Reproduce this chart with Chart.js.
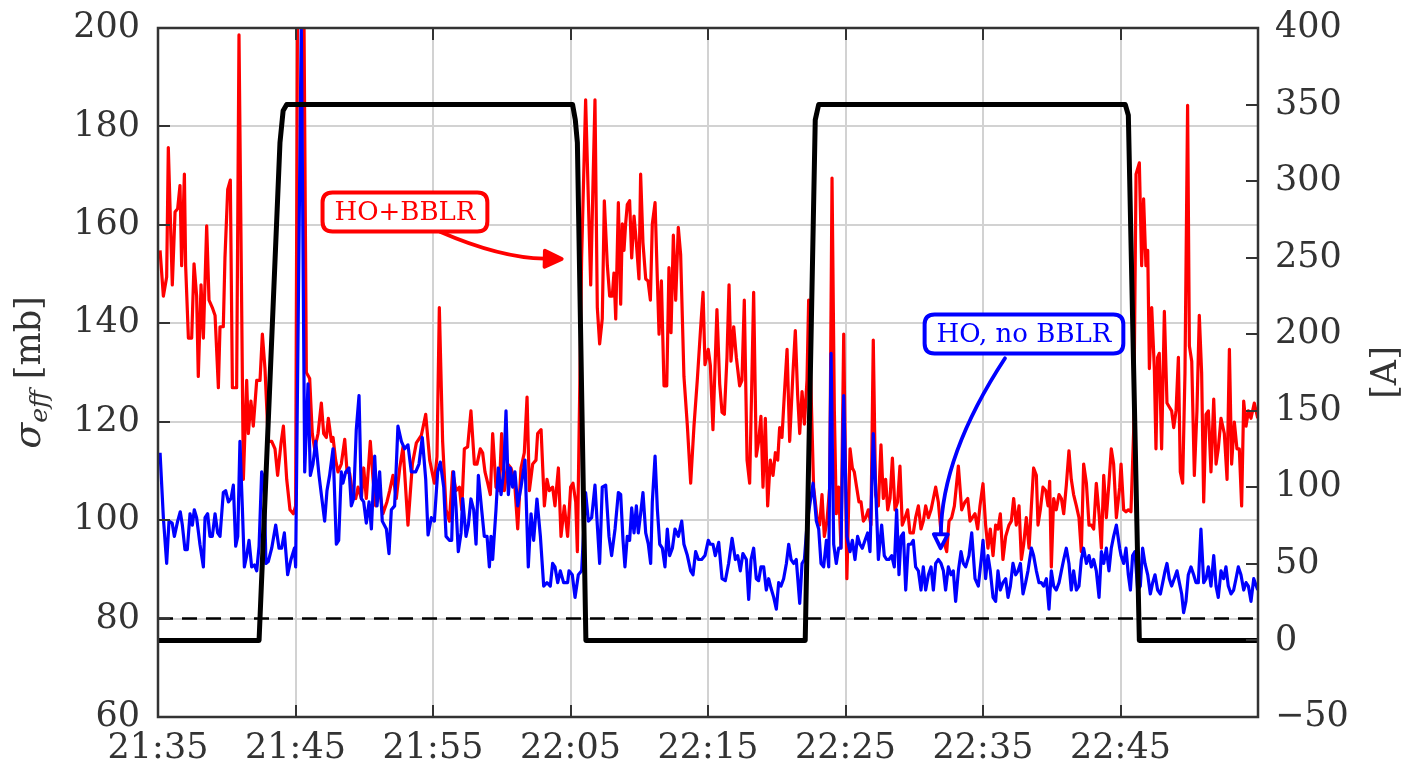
<!DOCTYPE html>
<html>
<head>
<meta charset="utf-8">
<script src="https://cdn.jsdelivr.net/npm/chart.js@4.4.0/dist/chart.umd.min.js"></script>
<style>
html,body{margin:0;padding:0;background:#ffffff;}
canvas{display:block;}
</style>
</head>
<body>
<canvas id="c" width="1406" height="766"></canvas>
<script>
// ---------- data (x in minutes after 21:35) ----------
const timeTickMinutes = [0, 10, 20, 30, 40, 50, 60, 70];
const timeTickLabels = ['21:35', '21:45', '21:55', '22:05', '22:15', '22:25', '22:35', '22:45'];
const xRange = [0, 80];
const sigmaRange = [60, 200];
const currentRange = [-50, 400];
const refLevel = 80;

const redT = [0.15,0.39,0.63,0.75,1.04,1.24,1.43,1.60,1.72,1.92,2.01,2.21,2.45,2.62,2.81,2.93,3.13,3.30,3.54,3.71,3.95,4.15,4.39,4.51,4.75,4.87,5.07,5.26,5.41,5.72,5.89,6.21,6.45,6.57,6.76,6.93,7.18,7.42,7.59,7.78,8.02,8.27,8.51,8.70,8.95,9.12,9.36,9.60,9.84,10.01,10.18,10.55,10.79,11.03,11.22,11.39,11.64,11.88,12.05,12.24,12.39,12.61,12.73,12.92,13.09,13.33,13.58,13.75,13.94,14.18,14.38,14.55,14.79,14.96,15.15,15.44,15.64,15.83,16.12,16.36,16.65,16.85,17.09,17.33,17.58,17.82,18.18,18.50,18.79,19.15,19.47,19.76,20.10,20.29,20.46,20.70,20.95,21.19,21.43,21.67,21.92,22.09,22.28,22.52,22.76,23.01,23.20,23.44,23.61,23.78,23.98,24.17,24.34,24.58,24.82,24.99,25.19,25.43,25.67,25.92,26.16,26.40,26.64,26.84,27.01,27.25,27.49,27.61,27.86,28.10,28.29,28.46,28.70,28.87,29.12,29.31,29.55,29.79,30.01,30.18,30.38,30.50,30.81,31.10,31.30,31.47,31.64,31.78,31.95,32.12,32.31,32.46,32.68,32.85,33.04,33.16,33.29,33.48,33.65,33.77,33.89,34.01,34.13,34.30,34.45,34.62,34.79,34.98,35.10,35.27,35.47,35.64,35.81,35.95,36.15,36.32,36.44,36.61,36.80,37.00,37.16,37.31,37.48,37.65,37.84,38.01,38.25,38.50,38.74,38.98,39.22,39.47,39.64,39.78,40.02,40.17,40.36,40.65,40.85,41.02,41.19,41.38,41.53,41.67,41.87,42.06,42.30,42.47,42.64,42.84,43.03,43.20,43.32,43.51,43.68,43.85,44.00,44.17,44.34,44.53,44.73,44.90,45.07,45.21,45.38,45.55,45.75,45.94,46.18,46.35,46.52,46.67,46.84,47.01,47.20,47.32,47.68,47.93,48.12,48.29,48.46,48.65,48.85,49.02,49.19,49.33,49.50,49.67,49.87,50.10,50.33,50.50,50.64,50.81,50.98,51.13,51.30,51.47,51.66,51.85,52.02,52.19,52.39,52.58,52.75,52.92,53.07,53.24,53.41,53.60,53.79,53.96,54.13,54.33,54.52,54.69,54.93,55.10,55.30,55.49,55.66,55.83,56.03,56.22,56.39,56.56,56.75,56.95,57.12,57.36,57.53,57.72,57.92,58.21,58.45,58.69,58.89,59.06,59.23,59.42,59.61,59.78,60.00,60.19,60.36,60.53,60.73,60.92,61.09,61.26,61.45,61.65,61.89,62.06,62.23,62.42,62.62,62.79,62.96,63.15,63.35,63.52,63.68,63.88,64.00,64.17,64.36,64.56,64.73,64.85,64.97,65.14,65.33,65.53,65.70,65.87,66.06,66.25,66.42,66.59,66.79,66.98,67.15,67.32,67.52,67.71,67.88,68.05,68.24,68.44,68.61,68.78,68.97,69.16,69.33,69.50,69.70,69.94,70.04,70.23,70.40,70.57,70.76,70.96,71.13,71.37,71.54,71.68,71.85,71.98,72.10,72.27,72.46,72.58,72.70,72.82,72.99,73.19,73.38,73.55,73.72,73.87,74.04,74.21,74.35,74.52,74.69,74.88,75.01,75.18,75.37,75.56,75.73,75.90,76.05,76.22,76.39,76.58,76.78,76.95,77.11,77.31,77.55,77.75,77.92,78.08,78.28,78.47,78.64,78.81,78.96,79.13,79.30,79.49,79.73,79.98];
const redV = [154.8,145.5,149.4,175.7,147.8,162.6,163.3,168.0,151.7,170.3,151.7,137.0,137.0,152.1,145.5,129.2,147.8,137.0,159.8,144.7,143.2,141.6,126.9,139.3,139.3,153.3,167.2,169.1,126.9,126.9,198.6,108.3,128.4,117.6,124.2,119.1,128.4,128.4,137.8,130.8,116.0,116.0,114.5,109.1,115.7,119.1,108.3,102.1,101.3,102.9,230,230,130.0,128.8,117.6,114.5,117.6,123.8,117.6,116.8,120.7,116.0,116.8,112.2,109.8,111.4,116.4,109.8,109.5,104.8,104.4,106.7,104.4,110.6,104.4,116.0,108.3,102.9,106.0,101.3,103.7,106.0,109.1,104.4,110.6,114.9,99.0,111.4,115.7,117.2,121.5,112.2,107.5,112.9,143.2,116.0,102.1,99.8,109.8,106.0,106.7,102.1,114.5,114.9,122.2,111.4,111.4,114.5,113.7,109.8,107.5,105.2,117.6,106.7,106.0,117.6,106.0,111.4,110.6,108.3,98.2,110.6,113.7,125.0,106.0,111.4,112.2,117.6,118.4,102.9,108.3,106.0,106.7,102.9,110.6,96.7,102.9,96.7,106.7,107.5,103.7,93.6,153.3,185.4,164.9,147.8,168.8,185.4,143.2,135.8,140.9,164.9,151.7,145.5,145.5,150.2,140.9,164.5,143.9,160.2,154.8,160.2,164.1,164.9,153.3,161.8,156.4,149.0,170.3,156.4,149.0,148.6,144.7,160.2,164.5,148.6,137.8,148.6,127.3,127.3,151.3,138.1,157.9,144.7,159.5,154.0,129.2,119.1,107.5,119.1,128.4,139.3,146.3,131.6,134.7,131.5,118.4,142.8,127.7,121.9,121.5,133.1,147.8,132.3,139.3,133.1,127.3,128.4,144.7,112.2,107.5,130.0,146.3,113.0,116.0,121.1,106.7,120.7,102.9,112.2,109.1,113.7,112.2,118.8,116.8,125.4,134.7,116.0,130.0,138.5,125.4,117.6,126.1,119.5,128.4,144.7,106.7,100.5,99.0,105.2,96.7,99.8,106.7,169.5,122.2,101.3,106.7,94.4,137.8,88.1,114.5,110.6,109.8,106.7,103.7,103.7,99.8,100.5,102.1,99.0,136.6,105.2,102.9,115.3,104.4,108.3,102.1,104.4,112.6,102.1,103.7,111.0,99.0,100.5,102.1,97.4,97.4,100.5,102.9,98.2,99.8,102.9,100.5,102.1,104.4,106.7,103.7,97.4,95.9,93.6,99.8,100.5,102.9,111.0,102.1,103.7,104.4,99.8,100.5,101.3,98.2,102.9,107.4,99.0,94.3,98.2,92.8,99.0,98.2,101.3,92.0,96.7,99.0,99.8,104.4,99.0,102.9,92.0,95.1,100.5,94.3,102.9,110.6,109.1,99.0,102.1,106.7,106.0,102.9,107.9,90.5,104.4,102.1,105.2,104.4,101.3,107.1,114.1,108.3,105.2,102.9,100.5,93.6,111.4,107.5,99.0,99.0,98.2,107.5,101.3,94.3,109.1,100.5,107.5,114.5,111.4,100.5,106.7,111.4,102.1,101.7,102.1,101.7,118.4,170.3,172.6,151.7,165.3,151.7,154.8,130.8,143.2,130.8,114.5,133.1,133.9,114.5,142.4,123.8,123.0,122.2,118.8,122.2,133.1,109.8,107.5,130.0,184.3,135.4,132.3,109.1,122.2,141.6,130.0,103.7,121.5,122.2,109.8,124.6,111.4,114.5,120.7,117.6,108.3,134.7,111.4,119.9,114.5,114.5,102.9,124.2,119.1,122.2,120.7,123.8,120.7];

const blueT = [0.15,0.39,0.63,0.80,1.03,1.19,1.43,1.62,1.77,1.96,2.13,2.33,2.50,2.64,2.81,3.05,3.30,3.42,3.61,3.78,3.95,4.15,4.34,4.51,4.75,4.92,5.12,5.31,5.48,5.65,5.80,5.96,6.13,6.28,6.45,6.62,6.81,7.01,7.18,7.35,7.54,7.71,7.85,8.02,8.27,8.56,8.80,8.99,9.19,9.43,9.67,9.92,10.01,10.42,10.67,10.91,11.08,11.27,11.47,11.71,11.88,12.12,12.29,12.48,12.73,12.97,13.14,13.33,13.45,13.65,13.89,14.06,14.23,14.42,14.62,14.79,14.96,15.15,15.35,15.52,15.76,15.93,16.12,16.31,16.61,16.80,16.97,17.21,17.45,17.70,17.94,18.18,18.42,18.74,18.98,19.22,19.47,19.64,19.88,20.10,20.34,20.53,20.78,20.95,21.19,21.36,21.50,21.67,21.84,22.04,22.16,22.40,22.57,22.76,22.96,23.13,23.30,23.54,23.73,23.93,24.10,24.22,24.34,24.58,24.75,24.95,25.14,25.31,25.48,25.63,25.79,25.96,26.16,26.40,26.69,26.93,27.13,27.32,27.56,27.81,28.05,28.29,28.53,28.70,28.87,29.07,29.26,29.50,29.79,29.89,30.13,30.33,30.57,30.81,31.10,31.30,31.54,31.78,31.95,32.12,32.31,32.56,32.80,32.99,33.24,33.48,33.65,33.82,33.96,34.13,34.30,34.45,34.62,34.79,34.93,35.10,35.27,35.47,35.66,35.83,35.95,36.15,36.32,36.49,36.68,36.87,37.04,37.21,37.41,37.60,37.84,38.09,38.25,38.50,38.74,38.91,39.10,39.30,39.54,39.78,40.02,40.17,40.36,40.53,40.78,41.02,41.26,41.50,41.75,41.99,42.16,42.35,42.54,42.79,42.96,43.13,43.32,43.51,43.68,43.85,44.05,44.24,44.41,44.58,44.78,44.97,45.14,45.31,45.50,45.70,45.87,46.04,46.23,46.42,46.67,46.84,47.01,47.20,47.39,47.64,47.88,48.05,48.22,48.41,48.61,48.78,48.95,49.14,49.33,49.50,49.67,49.87,50.10,50.33,50.50,50.69,50.88,51.05,51.22,51.42,51.61,51.78,52.02,52.19,52.39,52.63,52.82,52.99,53.16,53.36,53.55,53.72,53.89,54.04,54.21,54.38,54.57,54.76,54.93,55.10,55.30,55.49,55.66,55.83,56.03,56.22,56.39,56.56,56.75,56.95,57.12,57.28,57.48,57.67,57.84,58.01,58.21,58.40,58.57,58.74,58.98,59.18,59.42,59.66,59.90,60.00,60.19,60.36,60.53,60.73,60.92,61.09,61.26,61.45,61.65,61.82,61.99,62.18,62.38,62.55,62.72,62.91,63.10,63.27,63.52,63.68,63.88,64.07,64.24,64.41,64.61,64.80,64.97,65.14,65.33,65.53,65.70,65.87,66.06,66.25,66.42,66.59,66.79,66.98,67.15,67.32,67.52,67.71,67.88,68.05,68.24,68.44,68.61,68.78,68.97,69.16,69.33,69.50,69.70,69.94,70.04,70.23,70.40,70.57,70.72,70.88,71.05,71.25,71.44,71.61,71.78,71.98,72.17,72.34,72.51,72.70,72.90,73.07,73.24,73.38,73.55,73.72,73.91,74.11,74.28,74.45,74.59,74.76,74.93,75.13,75.32,75.49,75.66,75.85,76.05,76.22,76.39,76.58,76.78,76.95,77.11,77.31,77.50,77.67,77.84,78.04,78.23,78.40,78.57,78.76,78.96,79.13,79.30,79.49,79.69,79.98];
const blueV = [113.7,100.5,91.2,99.8,99.4,96.7,99.8,101.7,99.0,94.0,94.0,101.3,99.0,102.1,100.5,95.1,90.5,100.5,101.3,96.7,96.7,101.3,97.4,96.7,105.6,106.0,103.7,104.4,107.1,94.7,96.7,116.0,102.9,90.5,92.8,95.9,90.5,90.9,89.7,94.7,109.8,108.3,91.2,91.6,94.3,99.0,94.3,94.3,97.4,88.9,92.0,94.3,90.5,201,109.8,127.7,109.1,111.4,116.0,109.1,105.2,99.8,106.0,109.1,114.5,95.1,95.9,109.8,107.5,109.8,110.6,102.9,104.4,118.4,125.3,104.4,103.7,99.4,103.7,98.2,113.0,102.9,109.8,99.8,98.2,93.2,102.1,102.9,119.1,116.0,114.5,115.3,109.8,109.8,111.4,116.8,108.3,97.0,100.5,99.8,109.8,111.8,106.7,96.7,95.9,95.9,109.8,102.9,93.6,97.4,104.4,96.7,99.0,104.3,102.1,95.1,109.1,102.1,96.7,96.7,90.5,96.7,92.0,102.1,110.6,105.2,109.8,122.2,105.2,110.6,106.7,109.8,102.9,106.7,112.2,90.5,101.3,95.9,104.3,96.7,86.6,87.3,86.6,91.2,90.5,87.3,89.7,87.3,87.3,89.7,88.9,84.3,88.9,89.7,105.6,99.8,100.5,107.1,99.0,91.2,106.7,107.1,96.7,92.8,98.2,105.6,105.2,95.9,90.5,96.7,95.9,102.5,97.4,102.9,97.4,101.3,105.6,97.4,95.1,91.2,103.7,113.0,102.1,95.1,94.3,90.5,98.2,92.8,94.3,98.2,96.7,99.8,95.1,92.8,89.7,88.9,93.6,92.0,92.0,92.8,95.9,95.1,95.1,92.8,95.5,88.1,87.7,91.2,96.3,92.0,92.8,89.7,93.2,92.0,83.9,92.0,94.3,88.1,87.7,90.5,90.5,85.8,88.1,86.2,84.3,81.9,87.3,86.6,88.1,91.2,95.1,92.0,91.2,92.0,83.1,91.2,92.0,99.0,102.9,107.5,99.8,98.2,91.2,90.5,95.9,90.5,133.9,95.1,91.2,94.3,94.3,125.3,96.7,93.6,95.9,92.0,96.7,95.1,94.3,95.9,97.4,93.6,117.6,106.7,92.0,99.0,92.8,92.0,92.0,92.8,90.5,102.1,88.9,96.7,97.4,85.8,95.1,95.1,95.9,90.5,89.7,85.8,90.5,85.8,88.9,90.5,85.8,91.2,92.0,91.2,89.7,85.8,90.5,88.9,89.7,83.5,89.7,93.6,91.2,90.5,92.8,97.4,88.1,86.6,92.8,95.9,88.1,92.8,89.7,84.3,83.5,89.7,85.8,87.3,88.1,84.3,86.6,91.2,88.9,89.7,91.2,85.0,87.3,89.7,94.3,92.8,89.7,87.3,87.3,86.6,88.1,81.9,89.7,86.6,85.8,87.3,89.7,92.0,94.3,91.2,85.8,89.7,85.8,86.6,92.0,94.3,91.2,92.8,90.5,92.0,89.7,84.3,93.6,91.2,94.3,89.7,94.3,96.7,99.0,94.3,92.8,91.2,94.3,88.9,85.8,92.8,93.6,85.8,86.6,94.3,91.2,88.9,85.0,87.3,88.9,85.8,85.0,87.3,89.7,91.2,88.1,86.6,88.1,89.7,87.3,85.0,81.2,83.5,88.9,90.5,88.9,87.3,87.3,98.2,87.3,88.1,90.5,86.6,92.8,86.6,84.3,89.7,88.1,90.5,86.6,85.0,85.8,88.1,90.5,88.9,85.8,87.3,86.6,83.5,88.1,85.8];

const curT = [0, 7.35, 8.87, 9.1, 9.36, 30.15, 30.35, 30.5, 31.12, 47.07, 47.8, 48.05, 70.35, 70.57, 71.37, 80];
const curA = [0, 0, 325, 346, 350, 350, 340, 325, 0, 0, 340, 350, 350, 343, 0, 0];

const noteTexts = ['HO+BBLR', 'HO, no BBLR'];
const noteColors = ['#ff0000', '#0000ff'];
// anchors in data units: [minutes, sigma]
const noteBox = [[17.96, 162.6], [62.98, 137.8]];
const noteFrom = [[20.51, 158.6], [61.6, 132.9]];
const noteCtrl = [[24.87, 153.3], [57.0, 113.3]];
const noteTo = [[29.36, 153.06], [56.92, 94.3]];
const noteHeadFilled = [true, false];

// ---------- helpers ----------
const zip = (xs, ys) => xs.map((x, i) => ({x: x, y: ys[i]}));
const FONT = '"DejaVu Serif", serif';
const TXT = '#333333';

const framePlugin = {
  id: 'frame',
  afterDraw(chart) {
    const {ctx, chartArea: a, scales} = chart;
    ctx.save();
    ctx.strokeStyle = '#333333';
    ctx.lineWidth = 2;
    const L = 12;
    ctx.beginPath();
    scales.y.ticks.forEach(t => {
      const y = Math.round(scales.y.getPixelForValue(t.value));
      ctx.moveTo(a.left, y); ctx.lineTo(a.left + L, y);
    });
    scales.y1.ticks.forEach(t => {
      const y = Math.round(scales.y1.getPixelForValue(t.value));
      ctx.moveTo(a.right, y); ctx.lineTo(a.right - L, y);
    });
    timeTickMinutes.forEach(v => {
      const x = Math.round(scales.x.getPixelForValue(v));
      ctx.moveTo(x, a.bottom); ctx.lineTo(x, a.bottom - L);
      ctx.moveTo(x, a.top); ctx.lineTo(x, a.top + L);
    });
    ctx.stroke();
    ctx.lineWidth = 2.5;
    ctx.strokeRect(a.left, a.top, a.right - a.left, a.bottom - a.top);
    ctx.restore();
  }
};

const titlePlugin = {
  id: 'titles',
  afterDraw(chart) {
    const {ctx, chartArea: a} = chart;
    const cy = (a.top + a.bottom) / 2;
    ctx.save();
    ctx.fillStyle = TXT;
    ctx.textBaseline = 'alphabetic';
    ctx.textAlign = 'left';
    const f1 = 'italic 38px ' + FONT, f2 = 'italic 25px ' + FONT, f3 = '35px ' + FONT;
    ctx.font = f1; const w1 = ctx.measureText('\u03C3').width;
    ctx.font = f2; const w2 = ctx.measureText('eff').width;
    ctx.font = f3; const w3 = ctx.measureText(' [mb]').width;
    const tot = w1 + w2 + w3;
    ctx.translate(40, cy);
    ctx.rotate(-Math.PI / 2);
    let x0 = -tot / 2;
    ctx.font = f1; ctx.fillText('\u03C3', x0, 0); x0 += w1;
    ctx.font = f2; ctx.fillText('eff', x0, 7); x0 += w2;
    ctx.font = f3; ctx.fillText(' [mb]', x0, 0);
    ctx.restore();
    ctx.save();
    ctx.fillStyle = TXT;
    ctx.font = '35px ' + FONT;
    ctx.textAlign = 'center';
    ctx.textBaseline = 'alphabetic';
    ctx.translate(1396, cy);
    ctx.rotate(-Math.PI / 2);
    ctx.fillText('[A]', 0, 0);
    ctx.restore();
  }
};

function roundRect(ctx, x, y, w, h, r) {
  ctx.beginPath();
  ctx.moveTo(x + r, y);
  ctx.lineTo(x + w - r, y);
  ctx.quadraticCurveTo(x + w, y, x + w, y + r);
  ctx.lineTo(x + w, y + h - r);
  ctx.quadraticCurveTo(x + w, y + h, x + w - r, y + h);
  ctx.lineTo(x + r, y + h);
  ctx.quadraticCurveTo(x, y + h, x, y + h - r);
  ctx.lineTo(x, y + r);
  ctx.quadraticCurveTo(x, y, x + r, y);
  ctx.closePath();
}

const notePlugin = {
  id: 'notes',
  afterDatasetsDraw(chart) {
    const {ctx, scales} = chart;
    const px = p => [scales.x.getPixelForValue(p[0]), scales.y.getPixelForValue(p[1])];
    noteTexts.forEach((txt, i) => {
      const col = noteColors[i];
      ctx.save();
      ctx.strokeStyle = col;
      ctx.fillStyle = col;
      ctx.lineWidth = 3.8;
      ctx.lineCap = 'round';
      const s = px(noteFrom[i]), c = px(noteCtrl[i]), e = px(noteTo[i]);
      const dx = e[0] - c[0], dy = e[1] - c[1];
      const len = Math.hypot(dx, dy);
      const ux = dx / len, uy = dy / len;
      const hl = noteHeadFilled[i] ? 17 : 14, hw = noteHeadFilled[i] ? 8 : 7;
      const bx = e[0] - ux * hl, by = e[1] - uy * hl;
      ctx.beginPath();
      ctx.moveTo(s[0], s[1]);
      ctx.quadraticCurveTo(c[0], c[1], bx, by);
      ctx.stroke();
      ctx.beginPath();
      ctx.moveTo(e[0], e[1]);
      ctx.lineTo(bx - uy * hw, by + ux * hw);
      ctx.lineTo(bx + uy * hw, by - ux * hw);
      ctx.closePath();
      ctx.lineJoin = 'round';
      if (noteHeadFilled[i]) { ctx.fill(); ctx.stroke(); }
      else { ctx.fillStyle = '#ffffff'; ctx.fill(); ctx.stroke(); }
      const b = px(noteBox[i]);
      ctx.font = '26px ' + FONT;
      const tw = ctx.measureText(txt).width;
      const w = tw + 24, h = 39;
      ctx.fillStyle = '#ffffff';
      roundRect(ctx, b[0] - w / 2, b[1] - h / 2, w, h, 10);
      ctx.fill();
      ctx.lineWidth = 4;
      ctx.stroke();
      ctx.fillStyle = col;
      ctx.textAlign = 'center';
      ctx.textBaseline = 'middle';
      ctx.fillText(txt, b[0], b[1] + 1);
      ctx.restore();
    });
  }
};

new Chart(document.getElementById('c'), {
  type: 'line',
  data: {
    datasets: [
      {label: 'ref', data: zip(xRange, [refLevel, refLevel]), yAxisID: 'y', borderColor: '#000000', borderWidth: 2.6, borderDash: [15, 9], pointRadius: 0, order: 4},
      {label: 'HO+BBLR', data: zip(redT, redV), yAxisID: 'y', borderColor: '#ff0000', borderWidth: 3.2, pointRadius: 0, order: 3, borderJoinStyle: 'round'},
      {label: 'HO, no BBLR', data: zip(blueT, blueV), yAxisID: 'y', borderColor: '#0000ff', borderWidth: 3.2, pointRadius: 0, order: 2, borderJoinStyle: 'round'},
      {label: 'current', data: zip(curT, curA), yAxisID: 'y1', borderColor: '#000000', borderWidth: 5, pointRadius: 0, order: 1, borderJoinStyle: 'round'}
    ]
  },
  options: {
    responsive: false,
    devicePixelRatio: 1,
    animation: false,
    layout: {padding: {top: 28, left: 0, right: 0, bottom: 0}},
    plugins: {legend: {display: false}, tooltip: {enabled: false}},
    elements: {line: {tension: 0, fill: false}},
    scales: {
      x: {
        type: 'linear', position: 'bottom', min: xRange[0], max: xRange[1],
        afterBuildTicks: s => { s.ticks = timeTickMinutes.map(v => ({value: v})); },
        afterFit: s => { s.height = 49; s.paddingLeft = 0; s.paddingRight = 0; },
        ticks: {
          callback: (v, i) => timeTickLabels[i],
          font: {family: '"DejaVu Serif", serif', size: 35},
          color: TXT, padding: 11, maxRotation: 0, autoSkip: false
        },
        grid: {color: '#d2d2d2', lineWidth: 2, drawTicks: false},
        border: {display: false}
      },
      y: {
        type: 'linear', position: 'left', min: sigmaRange[0], max: sigmaRange[1],
        afterFit: s => { s.width = 158; s.paddingTop = 0; s.paddingBottom = 0; },
        ticks: {stepSize: 20, font: {family: '"DejaVu Serif", serif', size: 35}, color: TXT, padding: 18},
        grid: {color: '#d2d2d2', lineWidth: 2, drawTicks: false},
        border: {display: false}
      },
      y1: {
        type: 'linear', position: 'right', min: currentRange[0], max: currentRange[1],
        afterFit: s => { s.width = 148; s.paddingTop = 0; s.paddingBottom = 0; },
        ticks: {
          stepSize: 50, font: {family: '"DejaVu Serif", serif', size: 35}, color: TXT, padding: 17,
          callback: v => v < 0 ? '\u2212' + Math.abs(v) : String(v)
        },
        grid: {drawOnChartArea: false, drawTicks: false},
        border: {display: false}
      }
    }
  },
  plugins: [notePlugin, framePlugin, titlePlugin]
});
</script>
</body>
</html>
